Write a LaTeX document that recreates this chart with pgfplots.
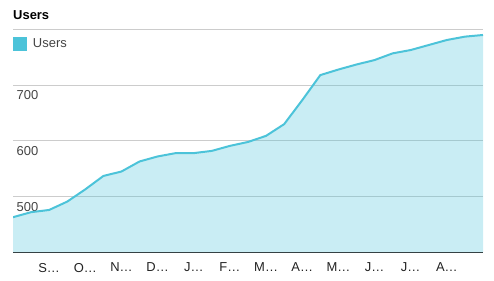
\documentclass[border=0pt]{standalone}
\usepackage{pgfplots}
\pgfplotsset{compat=1.18}
\usepackage{fontspec}
\setmainfont{Liberation Sans}
\definecolor{ucol}{RGB}{76,195,217}
\definecolor{gridc}{RGB}{204,204,204}
\definecolor{axc}{RGB}{51,51,51}
\definecolor{txt}{RGB}{68,68,68}
\definecolor{xtxt}{RGB}{34,34,34}
\begin{document}
\begin{tikzpicture}[x=1bp,y=1bp]
\begin{axis}[
  at={(13bp,27.7bp)}, anchor=south west,
  scale only axis, width=470bp, height=222.9bp,
  xmin=0, xmax=26, ymin=400, ymax=800,
  axis x line*=bottom, axis y line*=left,
  y axis line style={draw=none},
  x axis line style={draw=axc, line width=1.2bp},
  major tick length=0pt,
  xtick={2,4,...,24},
  xticklabels={S…,O…,N…,D…,J…,F…,M…,A…,M…,J…,J…,A…},
  ytick={500,600,700,800}, yticklabels={500,600,700,{}},
  ymajorgrids, grid style={draw=gridc, line width=1bp},
  /pgf/number format/assume math mode=true,
  yticklabel style={anchor=north west, inner sep=0pt, xshift=3.5bp, yshift=-5.5bp, text=txt, font=\fontsize{13}{15}\selectfont},
  xticklabel style={anchor=north, inner sep=0pt, yshift=-10.5bp, text=xtxt, font=\fontsize{13}{15}\selectfont},
  title=Users,
  every axis title/.style={at={(0,1)}, anchor=base west, inner sep=0pt, yshift=9.5bp, font=\bfseries\fontsize{13}{15}\selectfont},
  legend style={at={(0,1)}, anchor=north west, draw=none, fill=none, inner sep=0pt, outer sep=0pt, yshift=-7.5bp, font=\fontsize{13}{15}\selectfont, text=txt,
    /tikz/every odd column/.append style={column sep=4bp}},
  legend cell align=left,
  legend image code/.code={\fill[ucol] (0bp,-6bp) rectangle (12bp,6bp);},
]
\addplot[draw=none, fill=ucol, fill opacity=0.3, forget plot] coordinates {
(0,463) (1,472) (2,476) (3,491) (4,513) (5,537) (6,545) (7,563) (8,572) (9,578)
(10,578) (11,582) (12,591) (13,598) (14,609) (15,630) (16,673) (17,718) (18,728)
(19,737) (20,745) (21,757) (22,763) (23,772) (24,781) (25,787) (26,790)
} \closedcycle;
\addplot[draw=ucol, line width=2bp] coordinates {
(0,463) (1,472) (2,476) (3,491) (4,513) (5,537) (6,545) (7,563) (8,572) (9,578)
(10,578) (11,582) (12,591) (13,598) (14,609) (15,630) (16,673) (17,718) (18,728)
(19,737) (20,745) (21,757) (22,763) (23,772) (24,781) (25,787) (26,790)
};
\addlegendentry{Users}
\end{axis}
\pgfresetboundingbox
\path (0,0) rectangle (494,280);
\end{tikzpicture}
\end{document}
